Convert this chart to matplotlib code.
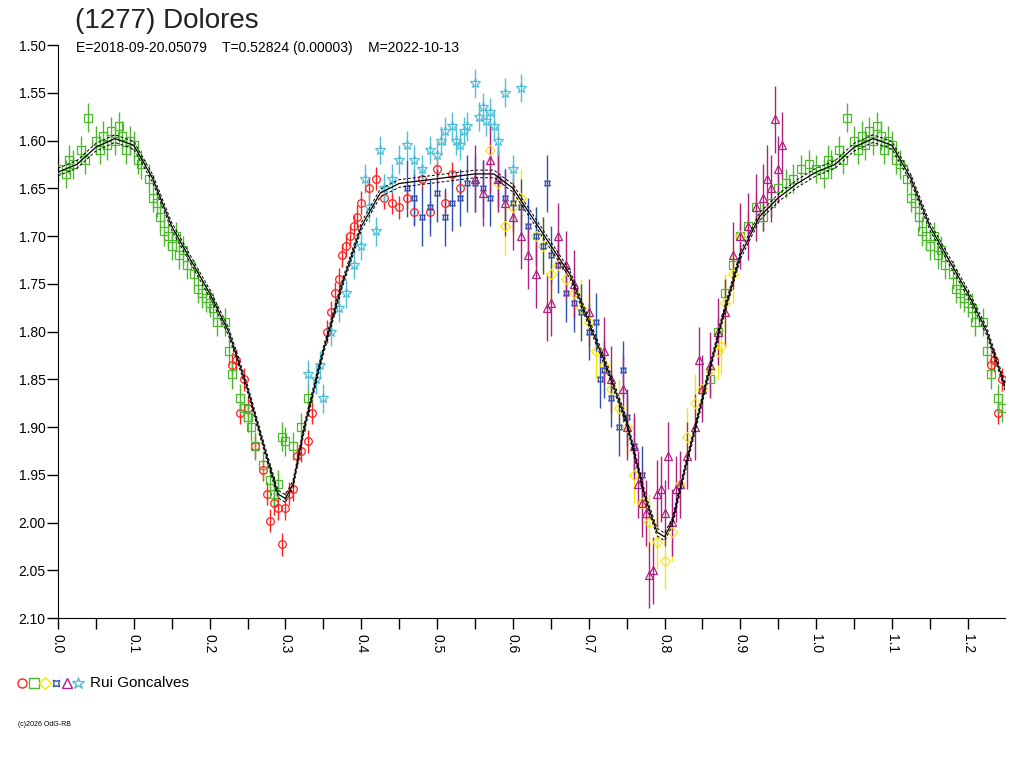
import numpy as np
import matplotlib
matplotlib.use("Agg")
import matplotlib.pyplot as plt

plt.rcParams['font.family'] = ['Liberation Sans', 'DejaVu Sans']

# fitted curve (phase, mag)
fit_ph = [0.0, 0.025, 0.05, 0.075, 0.1, 0.125, 0.15, 0.175, 0.2, 0.225, 0.25, 0.275, 0.29, 0.3,
          0.31, 0.325, 0.35, 0.375, 0.4, 0.425, 0.45, 0.5, 0.55, 0.575, 0.6, 0.625, 0.65, 0.675,
          0.7, 0.725, 0.75, 0.775, 0.79, 0.8, 0.81, 0.825, 0.85, 0.875, 0.9, 0.925, 0.95, 0.975]
fit_mag = [1.633, 1.625, 1.607, 1.598, 1.605, 1.64, 1.69, 1.725, 1.76, 1.80, 1.86, 1.93, 1.97, 1.975,
           1.96, 1.90, 1.82, 1.75, 1.69, 1.655, 1.645, 1.64, 1.635, 1.635, 1.65, 1.68, 1.71, 1.74,
           1.79, 1.84, 1.895, 1.975, 2.01, 2.015, 2.0, 1.95, 1.87, 1.79, 1.72, 1.68, 1.66, 1.645]

green_ph = [0.00, 0.01, 0.015, 0.02, 0.03, 0.035, 0.04, 0.05, 0.055, 0.06, 0.065, 0.07, 0.075, 0.08,
            0.085, 0.09, 0.095, 0.10, 0.105, 0.11, 0.12, 0.125, 0.13, 0.135, 0.14, 0.145, 0.15, 0.155,
            0.16, 0.165, 0.17, 0.18, 0.185, 0.19, 0.195, 0.2, 0.205, 0.21, 0.22, 0.225, 0.23, 0.24,
            0.245, 0.25, 0.255, 0.26, 0.27, 0.28, 0.285, 0.29, 0.295, 0.30, 0.31, 0.32, 0.33,
            0.86, 0.87, 0.88, 0.89, 0.9, 0.91, 0.92, 0.93, 0.94, 0.95, 0.96, 0.97, 0.98, 0.99]
green_mag = [1.63, 1.635, 1.62, 1.625, 1.61, 1.62, 1.576, 1.60, 1.61, 1.595, 1.605, 1.59, 1.60, 1.585,
             1.595, 1.61, 1.60, 1.605, 1.62, 1.625, 1.64, 1.66, 1.665, 1.68, 1.695, 1.70, 1.71, 1.70,
             1.72, 1.715, 1.73, 1.74, 1.755, 1.76, 1.765, 1.77, 1.775, 1.79, 1.79, 1.82, 1.845, 1.87,
             1.88, 1.89, 1.90, 1.92, 1.94, 1.955, 1.97, 1.96, 1.91, 1.915, 1.92, 1.90, 1.87,
             1.85, 1.80, 1.76, 1.73, 1.70, 1.69, 1.67, 1.68, 1.665, 1.65, 1.645, 1.64, 1.63, 1.625]

red_ph = [0.23, 0.235, 0.24, 0.245, 0.25, 0.26, 0.27, 0.275, 0.28, 0.285, 0.29, 0.295, 0.30, 0.305,
          0.31, 0.315, 0.32, 0.33, 0.335, 0.355, 0.36, 0.365, 0.37, 0.375, 0.38, 0.385, 0.39, 0.395,
          0.40, 0.41, 0.42, 0.43, 0.44, 0.45, 0.46, 0.47, 0.48, 0.49, 0.50, 0.51, 0.52, 0.53]
red_mag = [1.835, 1.83, 1.885, 1.85, 1.88, 1.92, 1.945, 1.97, 1.998, 1.98, 1.985, 2.023, 1.985, 1.97,
           1.965, 1.93, 1.925, 1.915, 1.885, 1.80, 1.78, 1.76, 1.745, 1.72, 1.71, 1.70, 1.69, 1.68,
           1.665, 1.65, 1.64, 1.66, 1.665, 1.67, 1.66, 1.675, 1.64, 1.675, 1.63, 1.665, 1.635, 1.65]

yellow_ph = [0.57, 0.58, 0.59, 0.60, 0.61, 0.63, 0.64, 0.65, 0.66, 0.67, 0.68, 0.69, 0.70, 0.71,
             0.72, 0.73, 0.74, 0.75, 0.76, 0.77, 0.78, 0.79, 0.80, 0.81, 0.82, 0.83, 0.84, 0.85,
             0.86, 0.87, 0.875, 0.88, 0.89, 0.90]
yellow_mag = [1.61, 1.645, 1.69, 1.67, 1.66, 1.70, 1.71, 1.74, 1.73, 1.745, 1.76, 1.775, 1.79, 1.82,
              1.835, 1.86, 1.88, 1.90, 1.95, 1.98, 2.0, 2.02, 2.04, 2.01, 1.96, 1.91, 1.875, 1.86,
              1.84, 1.82, 1.815, 1.77, 1.74, 1.70]

blue_ph = [0.46, 0.47, 0.48, 0.49, 0.50, 0.51, 0.52, 0.53, 0.54, 0.55, 0.56, 0.57, 0.58, 0.59,
           0.60, 0.61, 0.62, 0.63, 0.64, 0.645, 0.65, 0.66, 0.67, 0.68, 0.69, 0.70, 0.71, 0.715,
           0.72, 0.73, 0.74, 0.745, 0.75, 0.76, 0.77]
blue_mag = [1.65, 1.66, 1.68, 1.67, 1.655, 1.68, 1.665, 1.66, 1.645, 1.645, 1.65, 1.66, 1.64, 1.66,
            1.665, 1.67, 1.69, 1.70, 1.71, 1.645, 1.72, 1.73, 1.76, 1.77, 1.78, 1.80, 1.79, 1.85,
            1.84, 1.87, 1.90, 1.84, 1.89, 1.92, 1.95]

purple_ph = [0.55, 0.56, 0.57, 0.58, 0.59, 0.60, 0.61, 0.62, 0.63, 0.645, 0.65, 0.66, 0.67, 0.68,
             0.70, 0.72, 0.73, 0.745, 0.75, 0.76, 0.765, 0.77, 0.775, 0.78, 0.785, 0.79, 0.795, 0.80,
             0.805, 0.81, 0.815, 0.82, 0.83, 0.84, 0.845, 0.85, 0.86, 0.87, 0.88, 0.89, 0.90, 0.91,
             0.92, 0.93, 0.935, 0.94, 0.945, 0.95, 0.955]
purple_mag = [1.64, 1.655, 1.62, 1.64, 1.665, 1.68, 1.70, 1.72, 1.74, 1.775, 1.77, 1.70, 1.73, 1.75,
              1.78, 1.82, 1.85, 1.86, 1.90, 1.92, 1.96, 1.98, 1.99, 2.055, 2.05, 1.97, 1.965, 1.99,
              1.93, 2.00, 1.965, 1.96, 1.93, 1.90, 1.83, 1.86, 1.835, 1.80, 1.78, 1.72, 1.70, 1.69,
              1.67, 1.66, 1.64, 1.65, 1.578, 1.63, 1.605]

cyan_ph = [0.33, 0.34, 0.345, 0.35, 0.36, 0.37, 0.38, 0.39, 0.40, 0.405, 0.41, 0.42, 0.425, 0.43,
           0.44, 0.45, 0.46, 0.47, 0.48, 0.49, 0.50, 0.505, 0.51, 0.52, 0.525, 0.53, 0.535, 0.54,
           0.55, 0.555, 0.56, 0.565, 0.57, 0.575, 0.58, 0.59, 0.60, 0.61]
cyan_mag = [1.845, 1.85, 1.835, 1.87, 1.80, 1.775, 1.76, 1.73, 1.71, 1.64, 1.67, 1.695, 1.61, 1.65,
            1.64, 1.62, 1.605, 1.62, 1.63, 1.61, 1.615, 1.60, 1.59, 1.585, 1.60, 1.605, 1.59, 1.585,
            1.54, 1.575, 1.565, 1.58, 1.57, 1.585, 1.60, 1.55, 1.63, 1.545]

# (phases, mags, color, marker, errorbar half-length) in legend order
series = [
    (red_ph, red_mag, "#ff2020", "o", 0.012),
    (green_ph, green_mag, "#4db82e", "s", 0.015),
    (yellow_ph, yellow_mag, "#f5e60a", "D", 0.03),
    (blue_ph, blue_mag, "#3050b0", (4, 1, 45), 0.03),
    (purple_ph, purple_mag, "#b02080", "^", 0.035),
    (cyan_ph, cyan_mag, "#50c0d8", "*", 0.015),
]

fig = plt.figure(figsize=(10.24, 7.68), dpi=100)
ax = fig.add_axes([58 / 1024, 1 - 618 / 768, (1005 - 58) / 1024, (618 - 45) / 768])

for ph, mag, col, mk, err in series:
    ph = np.array(ph)
    mag = np.array(mag)
    rep = ph < 0.25
    x = np.concatenate([ph, ph[rep] + 1.0])
    y = np.concatenate([mag, mag[rep]])
    ms = 7 if mk == "*" else 5.5
    ax.errorbar(x, y, yerr=err, fmt="none", ecolor=col, elinewidth=1, zorder=2)
    ax.plot(x, y, linestyle="none", marker=mk, markersize=ms, markerfacecolor="none",
            markeredgecolor=col, markeredgewidth=0.9, zorder=3)

fp = np.array(fit_ph)
fm = np.array(fit_mag)
cx = np.concatenate([fp, fp + 1.0])
cy = np.concatenate([fm, fm])
keep = cx <= 1.26
cx, cy = cx[keep], cy[keep]
ax.plot(cx, cy, color="black", lw=0.9, zorder=4)
ax.plot(cx, cy - 0.004, color="black", lw=0.7, ls=(0, (3, 2)), zorder=4)
ax.plot(cx, cy + 0.004, color="black", lw=0.7, ls=(0, (3, 2)), zorder=4)

ax.set_xlim(0, 1.249)
ax.set_ylim(2.10, 1.50)
for s in ("top", "right"):
    ax.spines[s].set_visible(False)
ax.set_xticks(np.arange(0, 1.25, 0.1))
ax.set_xticks(np.arange(0.05, 1.25, 0.1), minor=True)
ax.set_xticklabels([f"{v:.1f}" for v in np.arange(0, 1.25, 0.1)], rotation=270, fontsize=10)
ax.set_yticks(np.arange(1.50, 2.101, 0.05))
ax.set_yticklabels([f"{v:.2f}" for v in np.arange(1.50, 2.101, 0.05)], fontsize=10)
ax.tick_params(axis="both", which="both", direction="out", length=8, width=1)
ax.tick_params(axis="y", pad=1)

fig.text(75 / 1024, 1 - 21 / 768, "(1277) Dolores", fontsize=20, va="center", color="#222222")
fig.text(76 / 1024, 1 - 48 / 768,
         "E=2018-09-20.05079    T=0.52824 (0.00003)    M=2022-10-13", fontsize=10, va="center")

leg_x = [22, 34, 45, 56, 67, 78]
for lx, (_, _, col, mk, _) in zip(leg_x, series):
    ms = 9 if mk == "*" else 6.5
    fig.add_artist(plt.Line2D([lx / 1024], [1 - 683 / 768], marker=mk, markersize=ms,
                              markerfacecolor="none", markeredgecolor=col, linestyle="none"))
fig.text(90 / 1024, 1 - 683 / 768, "Rui Goncalves", fontsize=11, va="center")
fig.text(18 / 1024, 1 - 725 / 768, "(c)2026 OdG-RB", fontsize=5, va="center")

fig.savefig("out.png", dpi=100)
